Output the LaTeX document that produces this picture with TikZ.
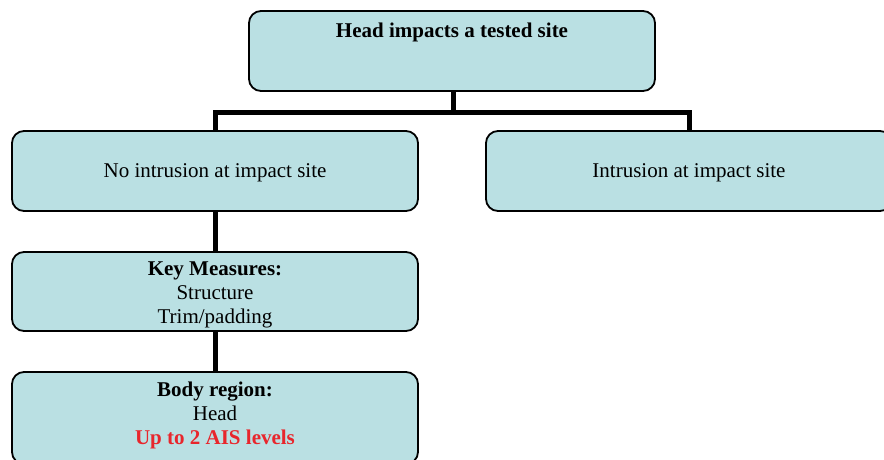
\documentclass[tikz,border=0pt]{standalone}
\usepackage{fontspec}
\setmainfont{Liberation Serif}
\definecolor{boxfill}{RGB}{186,224,227}
\definecolor{alertred}{RGB}{232,38,44}
\begin{document}
\begin{tikzpicture}[x=1pt,y=1pt,
  chartbox/.style={draw=black, line width=1.8pt, fill=boxfill, rounded corners=12pt,
    minimum width=406pt, inner sep=0pt, align=center,
    font=\fontsize{21}{24}\selectfont},
  link/.style={draw=black, line width=5pt}]
  \useasboundingbox (0,0) rectangle (884,-459);
  \clip (0,0) rectangle (884,-459);

  % boxes (centre, height; text height/depth place the lines)
  \node[chartbox, minimum height=80pt, text height=16pt, text depth=44pt]
    (top) at (452,-51) {\textbf{Head impacts a tested site}};
  \node[chartbox, minimum height=80pt, text height=14pt, text depth=2pt]
    (noint) at (215,-171) {No intrusion at impact site};
  \node[chartbox, minimum height=80pt, text height=14pt, text depth=2pt]
    (int) at (689,-171) {Intrusion at impact site};
  \node[chartbox, minimum height=79pt, text height=66pt, text depth=3pt]
    (key) at (215,-291.5) {\textbf{Key Measures:}\\ Structure\\ Trim/padding};
  \node[chartbox, minimum height=92pt, text height=62pt, text depth=10pt]
    (body) at (215,-418) {\textbf{Body region:}\\ Head\\ \textcolor{alertred}{\textbf{Up to 2 AIS levels}}};

  % connectors
  \coordinate (split) at (453,-112.5);
  \draw[link] (top.south -| split) -- (split);
  \draw[link] (split) -| (noint.north);
  \draw[link] (split) -| (int.north);
  \draw[link] (noint.south) -- (key.north);
  \draw[link] (key.south) -- (body.north);
\end{tikzpicture}
\end{document}
